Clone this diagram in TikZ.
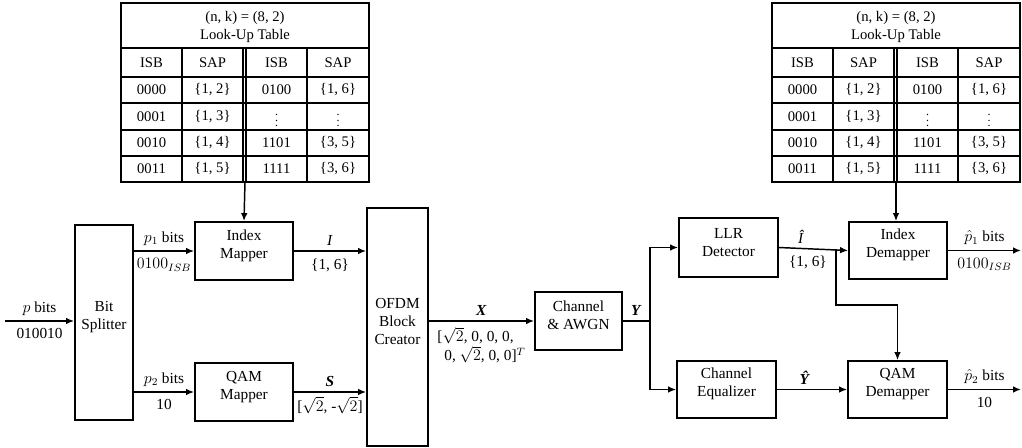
\documentclass[tikz,border=0pt]{standalone}
\usepackage{amsmath}
\usepackage{fontspec}
\setmainfont{Liberation Serif}
\usetikzlibrary{arrows.meta,fit}
\newcommand\lookuptable[2]{%
\begin{scope}[shift={(#1,0)}]
  \draw[tline] (0,3) rectangle (248,182);
  \draw[tline] (0,48) -- (248,48);
  \foreach \yy in {77,103,130,156} \draw[tline] (0,\yy) -- (248,\yy);
  \foreach \xx in {61,122,125,186} \draw[tline] (\xx,48) -- (\xx,182);
  \node[tbl, align=center] (#2-title) at (124,27) {(n, k) = (8, 2)\\Look-Up Table};
  \node[tbl] (#2-h1) at (30.5,62.5) {ISB};
  \node[tbl] (#2-h2) at (91.5,62.5) {SAP};
  \node[tbl] (#2-h3) at (155.5,62.5) {ISB};
  \node[tbl] (#2-h4) at (217,62.5) {SAP};
  \node[tbl] (#2-a1) at (30.5,90) {0000};
  \node[tbl] (#2-a2) at (91.5,90) {\{1, 2\}};
  \node[tbl] (#2-a3) at (155.5,90) {0100};
  \node[tbl] (#2-a4) at (217,90) {\{1, 6\}};
  \node[tbl] (#2-b1) at (30.5,116.5) {0001};
  \node[tbl] (#2-b2) at (91.5,116.5) {\{1, 3\}};
  \node[tbl, font=\fontsize{9}{10}\selectfont] (#2-b3) at (155.5,116.5) {$\vdots$};
  \node[tbl, font=\fontsize{9}{10}\selectfont] (#2-b4) at (217,116.5) {$\vdots$};
  \node[tbl] (#2-c1) at (30.5,143) {0010};
  \node[tbl] (#2-c2) at (91.5,143) {\{1, 4\}};
  \node[tbl] (#2-c3) at (155.5,143) {1101};
  \node[tbl] (#2-c4) at (217,143) {\{3, 5\}};
  \node[tbl] (#2-d1) at (30.5,169) {0011};
  \node[tbl] (#2-d2) at (91.5,169) {\{1, 5\}};
  \node[tbl] (#2-d3) at (155.5,169) {1111};
  \node[tbl] (#2-d4) at (217,169) {\{3, 6\}};
  \coordinate (#2-out) at (124,182);
\end{scope}}
\begin{document}
\begin{tikzpicture}[x=0.75pt,y=-0.75pt,
  box/.style={draw, line width=1.4pt, inner sep=0pt, align=center, font=\fontsize{11.5}{13.5}\selectfont},
  arr/.style={line width=1.1pt, -{Latex[length=6pt,width=5pt]}},
  plain/.style={line width=1.1pt},
  la/.style={font=\fontsize{11.5}{13.5}\selectfont, inner sep=3.5pt, above},
  lb/.style={font=\fontsize{11.5}{14.5}\selectfont, inner sep=5pt, below},
  tline/.style={line width=1.1pt},
  tbl/.style={font=\fontsize{11}{14}\selectfont, inner sep=0pt}]
\useasboundingbox (0,0) rectangle (1022,447);

% tables
\lookuptable{121}{lt}
\lookuptable{772}{rt}

% transmitter blocks
\node[box, fit={(75,225) (133,420)}] (bs) {Bit\\Splitter};
\node[box, fit={(195,222) (293,280)}] (im) {Index\\Mapper};
\node[box, fit={(195,363) (293,421)}] (qm) {QAM\\Mapper};
\node[box, fit={(367,208) (428,446)}] (ofdm) {OFDM\\Block\\Creator};
\node[box, fit={(535,292) (622,350)}] (ch) {Channel\\\& AWGN};

% receiver blocks
\node[box, fit={(679,218) (778,277)}] (llr) {LLR\\Detector};
\node[box, fit={(677,361) (776,418)}] (eq) {Channel\\Equalizer};
\node[box, fit={(849,222) (947,279)}] (idm) {Index\\Demapper};
\node[box, fit={(848,361) (947,418)}] (qdm) {QAM\\Demapper};

% coordinates
\coordinate (in) at (5,321);
\coordinate (j) at (650,321);
\coordinate (br) at (836,249);
\coordinate (brk) at (836,305);
\coordinate (o1) at (1021,250);
\coordinate (o2) at (1021,390);

% transmitter connectors
\draw[arr] (in) -- node[la] {$p$ bits} node[lb] {010010} (bs.west |- in);
\draw[arr] (bs.east |- im.west) -- node[la] {$p_1$ bits} node[lb] {$0100_{ISB}$} (im.west);
\draw[arr] (bs.east |- qm.west) -- node[la] {$p_2$ bits} node[lb] {10} (qm.west);
\draw[arr] (im.east) -- node[la] {\textit{I}} node[lb] {\{1, 6\}} (ofdm.west |- im.east);
\draw[arr] (qm.east) -- node[la] {\textbf{\textit{S}}} node[lb, inner sep=3pt] {[$\sqrt{2}$, -$\sqrt{2}$]} (ofdm.west |- qm.east);
\draw[arr] (ofdm.east |- ch.west) -- node[la] {\textbf{\textit{X}}}
  node[lb, align=left, inner sep=4pt] {[$\sqrt{2}$, 0, 0, 0,\\\hspace{0.45em}0, $\sqrt{2}$, 0, 0]$^{T}$} (ch.west);
\draw[arr] (lt-out) -- (im.north);

% receiver connectors
\draw[plain] (ch.east) -- node[la] {\textbf{\textit{Y}}} (j);
\draw[arr] (j) |- (llr.west);
\draw[arr] (j) |- (eq.west);
\draw[arr] (llr.east) -- node[la, pos=0.32] {\textit{Î}} node[lb, pos=0.42] {\{1, 6\}} (idm.west);
\draw[arr] (br) -- (brk) -| (qdm.north);
\draw[arr] (eq.east) -- node[la, pos=0.4] {\textbf{\textit{Ŷ}}} (qdm.west);
\draw[arr] (rt-out) -- (rt-out |- idm.north);
\draw[arr] (idm.east) -- node[la] {$\hat{p}_1$ bits} node[lb] {$0100_{ISB}$} (idm.east -| o1);
\draw[arr] (qdm.east) -- node[la] {$\hat{p}_2$ bits} node[lb] {10} (qdm.east -| o2);
\end{tikzpicture}
\end{document}
